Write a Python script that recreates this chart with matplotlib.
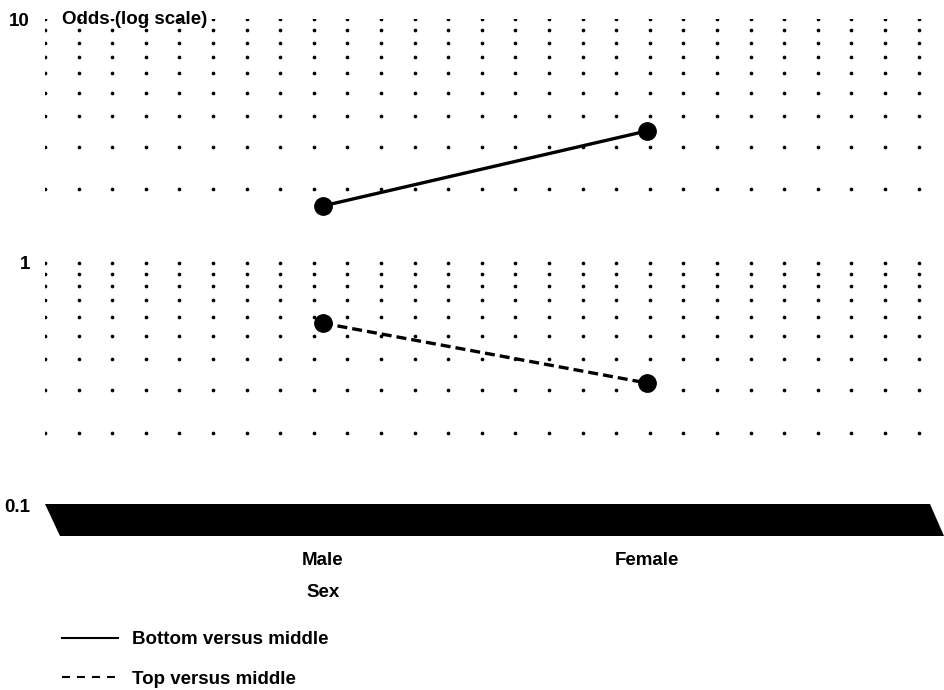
import numpy as np
import matplotlib.pyplot as plt
from matplotlib.patches import Polygon
from matplotlib.lines import Line2D
from matplotlib.ticker import NullLocator

# data
sexes = ['Male', 'Female']
sex_pos = [1, 2]
bottom_vs_middle = [1.71, 3.48]
top_vs_middle = [0.564, 0.32]
series_labels = ['Bottom versus middle', 'Top versus middle']
y_ticks = [0.1, 1, 10]
y_tick_labels = ['0.1', '1', '10']

plt.rcParams['font.family'] = ['Liberation Sans', 'DejaVu Sans']
plt.rcParams['font.weight'] = 'bold'
FS = 13.5

fig = plt.figure(figsize=(9.44, 6.9), dpi=100)
ax = fig.add_axes([0.0477, 0.2667, 0.9375, 0.7053])
ax.set_yscale('log')
ax.set_ylim(0.1, 10)
ax.set_xlim(0.1445, 2.871)

# dotted background grid (log minor positions)
grid_x = np.linspace(0.1445, 2.8355, 27)
grid_y = np.concatenate([np.arange(2, 11) / 10, np.arange(2, 11)])
gx, gy = np.meshgrid(grid_x, grid_y)
ax.scatter(gx.ravel(), gy.ravel(), s=7, color='black', linewidths=0, zorder=1)

# series
ax.plot(sex_pos, bottom_vs_middle, color='black', lw=2.4, marker='o', ms=12.5, zorder=3)
ax.plot(sex_pos, top_vs_middle, color='black', lw=2.4, ls=(0, (3, 1.5)),
        marker='o', ms=12.5, zorder=3)

for s in ax.spines.values():
    s.set_visible(False)
ax.set_yticks(y_ticks, y_tick_labels)
ax.yaxis.set_minor_locator(NullLocator())
ax.tick_params(axis='y', which='both', length=0, pad=11, labelsize=FS)
ax.set_xticks(sex_pos, sexes)
ax.tick_params(axis='x', length=0, pad=33, labelsize=FS)

ax.text(0.019, 1.0, 'Odds (log scale)', transform=ax.transAxes,
        ha='left', va='center', fontsize=FS, zorder=4)
ax.annotate('Sex', xy=(1, 0), xycoords=('data', 'axes fraction'),
            xytext=(0, -62), textcoords='offset points',
            ha='center', va='center', fontsize=FS)

# black slanted floor under the plot
floor_px = [(45, 504), (930, 504), (944, 536), (60, 536)]
floor = Polygon([(x / 944, 1 - y / 690) for x, y in floor_px], closed=True,
                transform=fig.transFigure, facecolor='black', edgecolor='none')
fig.add_artist(floor)

handles = [Line2D([], [], color='black', lw=1.5),
           Line2D([], [], color='black', lw=1.5, ls=(0, (3.8, 3.4)))]
fig.legend(handles, series_labels, loc='upper left', bbox_to_anchor=(0.0657, 0.085),
           frameon=False, handlelength=3.0, handletextpad=0.75, labelspacing=1.17,
           fontsize=FS, borderaxespad=0, borderpad=0)

fig.savefig('out.png', dpi=100)
